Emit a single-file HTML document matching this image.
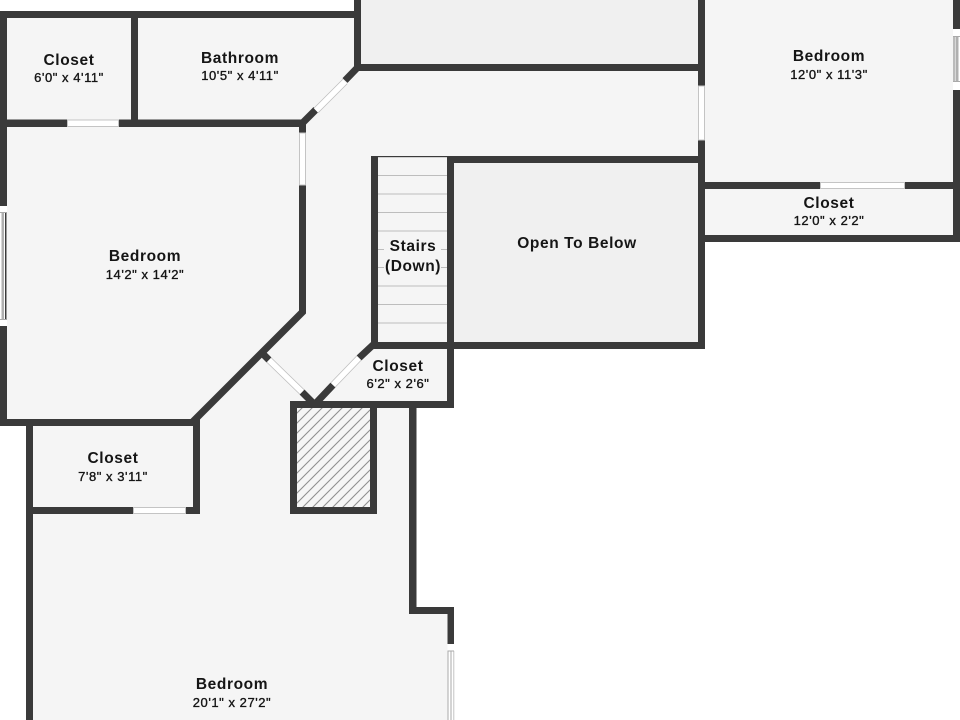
<!DOCTYPE html>
<html>
<head>
<meta charset="utf-8">
<style>
html,body{margin:0;padding:0;background:#fff;width:960px;height:720px;overflow:hidden}
svg{display:block}
text{font-family:"Liberation Sans",sans-serif;fill:#151515;text-anchor:middle}
.n{font-size:15.5px;font-weight:bold;letter-spacing:.6px}
.d{font-size:13px;font-weight:normal;stroke:#151515;stroke-width:.35px;letter-spacing:.55px}
</style>
</head>
<body>
<svg width="960" height="720" viewBox="0 0 960 720" xmlns="http://www.w3.org/2000/svg">
<defs>
<pattern id="h" width="10" height="10" patternUnits="userSpaceOnUse">
<path d="M-2.5 2.5L2.5 -2.5M-2.5 12.5L12.5 -2.5M7.5 12.5L12.5 7.5" stroke="#8f8f8f" stroke-width="1.1"/>
</pattern>
</defs>
<rect width="960" height="720" fill="#fff"/>

<!-- floors -->
<path fill="#f5f5f5" d="M0 14H357V0H702V0H956V238H702V346H450V404H413V610H450V720H30V510H0V0Z"/>
<rect x="0" y="0" width="354" height="11" fill="#fff"/>
<rect x="0" y="426" width="26" height="294" fill="#fff"/>
<rect x="361" y="0" width="337" height="64" fill="#f0f0f0"/>
<rect x="454" y="163" width="244" height="179" fill="#f0f0f0"/>

<!-- hatch -->
<rect x="297" y="408" width="73" height="99" fill="#f5f5f5"/>
<rect x="297" y="408" width="73" height="99" fill="url(#h)"/>

<!-- stairs -->
<g stroke="#bdbdbd" stroke-width="1">
<path d="M378 175.5H447M378 194H447M378 212.5H447M378 231H447M378 249.5H447M378 267.5H447M378 286H447M378 304.500H447M378 323H447"/>
</g>
<rect x="378" y="156" width="69" height="1.2" fill="#3a3a3a"/>

<!-- walls -->
<g fill="#3a3a3a">
<rect x="0" y="11" width="360.500" height="7"/>
<rect x="354" y="0" width="7" height="71"/>
<rect x="0" y="11" width="7" height="195"/>
<rect x="131" y="18" width="7" height="102"/>
<rect x="0" y="119.500" width="306" height="7.500"/>
<rect x="355" y="64" width="350" height="7"/>
<rect x="698" y="0" width="7" height="86"/>
<rect x="698" y="140" width="7" height="209"/>
<rect x="953" y="0" width="7" height="29"/>
<rect x="953" y="90" width="7" height="152"/>
<rect x="705" y="182" width="248" height="7"/>
<rect x="705" y="235" width="255" height="7"/>
<rect x="299" y="127" width="7" height="6"/>
<rect x="0" y="326" width="7" height="100"/>
<rect x="0" y="419" width="200" height="7"/>
<rect x="26" y="426" width="7" height="294"/>
<rect x="193" y="420" width="7" height="94"/>
<rect x="33" y="507" width="167" height="7"/>
<rect x="371" y="156" width="7" height="193"/>
<rect x="447" y="156" width="7" height="252"/>
<rect x="447" y="156" width="258" height="7"/>
<rect x="371" y="342" width="334" height="7"/>
<rect x="290" y="401" width="164" height="7"/>
<rect x="290" y="401" width="7" height="113"/>
<rect x="370" y="401" width="7" height="113"/>
<rect x="290" y="507" width="87" height="7"/>
<rect x="409" y="408" width="7.500" height="206"/>
<rect x="409" y="607" width="45" height="7"/>
<rect x="447.500" y="607" width="6.500" height="37"/>
</g>
<g fill="none" stroke="#3a3a3a" stroke-width="7">
<path d="M302.500 185V312L193 421.500"/>
<path d="M359 66L345 80.500"/>
<path d="M316 109.500L302 123.500"/>
<path d="M263 354L269 360"/>
<path d="M302 392L314 404"/>
<path d="M374 344L359 358"/>
<path d="M333 385L316 403"/>
</g>

<!-- door / window openings -->
<g fill="#fff" stroke="#c4c4c4" stroke-width="1">
<rect x="67.500" y="120" width="51" height="6.500"/>
<rect x="299.500" y="133" width="6" height="52"/>
<rect x="698.500" y="86" width="6" height="54"/>
<rect x="820.500" y="182.500" width="84" height="6"/>
<rect x="133.500" y="507.500" width="52" height="6"/>
</g>
<g stroke-linecap="butt" fill="none">
<path d="M345 81.500L316 110.500" stroke="#bdbdbd" stroke-width="7"/>
<path d="M345 81.500L316 110.500" stroke="#fff" stroke-width="5.500"/>
<path d="M269 360L302 392" stroke="#bdbdbd" stroke-width="7"/>
<path d="M269 360L302 392" stroke="#fff" stroke-width="5.500"/>
<path d="M359 358L333 385" stroke="#bdbdbd" stroke-width="7"/>
<path d="M359 358L333 385" stroke="#fff" stroke-width="5.500"/>
</g>

<!-- sliding windows -->
<g>
<rect x="0" y="206" width="7" height="120" fill="#fff"/>
<rect x="5" y="212" width="1.500" height="108" fill="#3a3a3a"/>
<rect x="1.500" y="212" width="2.500" height="108" fill="#b0b0b0"/>
<rect x="0" y="212" width="7" height="1" fill="#aaa"/>
<rect x="0" y="319" width="7" height="1" fill="#aaa"/>

<rect x="953" y="29" width="7" height="61" fill="#fff"/>
<rect x="953.500" y="36" width="1" height="46" fill="#777"/>
<rect x="955.500" y="36" width="3" height="46" fill="#b0b0b0"/>
<rect x="953" y="36" width="7" height="1" fill="#aaa"/>
<rect x="953" y="81" width="7" height="1" fill="#aaa"/>

<rect x="447.500" y="644" width="6.500" height="76" fill="#fff"/>
<rect x="447.500" y="651" width="1" height="69" fill="#aaa"/>
<rect x="450.500" y="651" width="1" height="69" fill="#aaa"/>
<rect x="453.500" y="651" width=".7" height="69" fill="#aaa"/>
<rect x="447.500" y="650.500" width="6.500" height="1" fill="#aaa"/>
</g>

<!-- labels -->
<rect x="384" y="238" width="57" height="37" fill="#f5f5f5"/>
<text class="n" x="69" y="65">Closet</text>
<text class="d" x="69" y="82">6'0" x 4'11"</text>
<text class="n" x="240" y="63">Bathroom</text>
<text class="d" x="240" y="80">10'5" x 4'11"</text>
<text class="n" x="829" y="61">Bedroom</text>
<text class="d" x="829" y="79">12'0" x 11'3"</text>
<text class="n" x="829" y="208">Closet</text>
<text class="d" x="829" y="225">12'0" x 2'2"</text>
<text class="n" x="145" y="261">Bedroom</text>
<text class="d" x="145" y="279">14'2" x 14'2"</text>
<text class="n" x="413" y="251">Stairs</text>
<text class="n" x="413" y="271">(Down)</text>
<text class="n" x="577" y="248">Open To Below</text>
<text class="n" x="398" y="371">Closet</text>
<text class="d" x="398" y="388">6'2" x 2'6"</text>
<text class="n" x="113" y="463">Closet</text>
<text class="d" x="113" y="481">7'8" x 3'11"</text>
<text class="n" x="232" y="689">Bedroom</text>
<text class="d" x="232" y="707">20'1" x 27'2"</text>
</svg>
</body>
</html>
